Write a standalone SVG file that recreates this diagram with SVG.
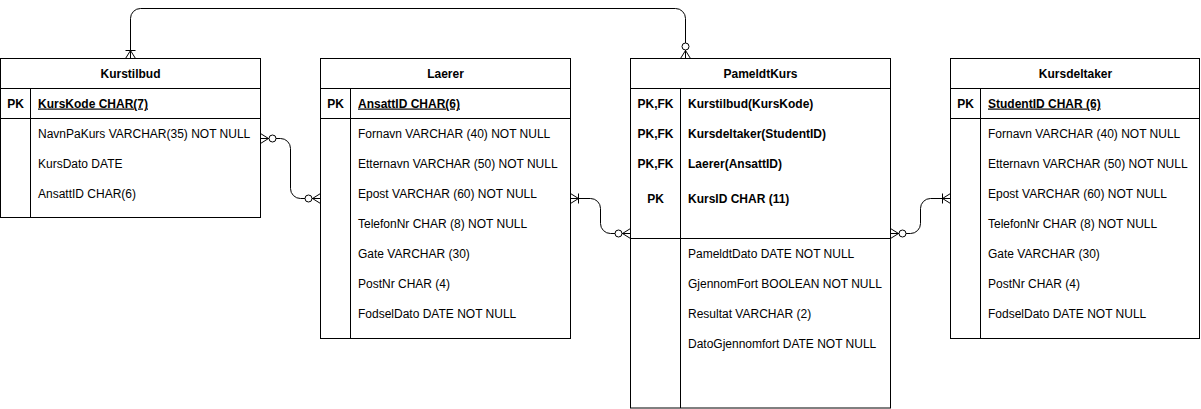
<svg xmlns="http://www.w3.org/2000/svg" width="1201" height="409" viewBox="0 0 1201 409">
<style>
  .box{fill:#fff;stroke:#000;stroke-width:1}
  .ln{stroke:#000;stroke-width:1;fill:none}
  text{font-family:"Liberation Sans",Arial,Helvetica,sans-serif;font-size:12px;fill:#000}
  .hd{font-weight:bold;text-anchor:middle}
  .pk{font-weight:bold;text-anchor:middle}
  .key{font-weight:bold;text-decoration:underline}
  .b{font-weight:bold}
  .conn{stroke:#000;stroke-width:1;fill:none}
</style>
<defs>
  <marker id="zeroMany" markerUnits="userSpaceOnUse" viewBox="-20 -10 22 20" refX="0" refY="0" markerWidth="22" markerHeight="20" orient="auto-start-reverse" overflow="visible">
    <path d="M0,-5 L-8,0 L0,5" fill="none" stroke="#000" stroke-width="1"/>
    <circle cx="-12" cy="0" r="3.5" fill="#fff" stroke="#000" stroke-width="1"/>
  </marker>
  <marker id="oneMany" markerUnits="userSpaceOnUse" viewBox="-20 -10 22 20" refX="0" refY="0" markerWidth="22" markerHeight="20" orient="auto-start-reverse" overflow="visible">
    <path d="M0,-5 L-8,0 L0,5 M-8,-5 L-8,5" fill="none" stroke="#000" stroke-width="1"/>
  </marker>
</defs>
<rect x="0" y="0" width="1201" height="409" fill="#fff"/>

<g id="Kurstilbud">
  <rect class="box" x="0.5" y="58.5" width="260" height="159"/>
  <path class="ln" d="M0.5,88.5 H260.5 M0.5,118.5 H260.5 M30.5,88.5 V217.5"/>
  <text class="hd" x="130.5" y="77.5">Kurstilbud</text>
  <text class="pk" x="15.5" y="107.5">PK</text>
  <text class="key" x="38" y="107.5">KursKode CHAR(7)</text>
  <text x="38" y="137.5">NavnPaKurs VARCHAR(35) NOT NULL</text>
  <text x="38" y="167.5">KursDato DATE</text>
  <text x="38" y="197.5">AnsattID CHAR(6)</text>
</g>

<g id="Laerer">
  <rect class="box" x="320.5" y="58.5" width="250" height="280"/>
  <path class="ln" d="M320.5,88.5 H570.5 M320.5,118.5 H570.5 M350.5,88.5 V338.5"/>
  <text class="hd" x="445.5" y="77.5">Laerer</text>
  <text class="pk" x="335.5" y="107.5">PK</text>
  <text class="key" x="358" y="107.5">AnsattID CHAR(6)</text>
  <text x="358" y="137.5">Fornavn VARCHAR (40) NOT NULL</text>
  <text x="358" y="167.5">Etternavn VARCHAR (50) NOT NULL</text>
  <text x="358" y="197.5">Epost VARCHAR (60) NOT NULL</text>
  <text x="358" y="227.5">TelefonNr CHAR (8) NOT NULL</text>
  <text x="358" y="257.5">Gate VARCHAR (30)</text>
  <text x="358" y="287.5">PostNr CHAR (4)</text>
  <text x="358" y="317.5">FodselDato DATE NOT NULL</text>
</g>

<g id="PameldtKurs">
  <rect class="box" x="630.5" y="58.5" width="260" height="349.5"/>
  <path class="ln" d="M630.5,88.5 H890.5 M630.5,238.5 H890.5 M680.5,88.5 V408"/>
  <text class="hd" x="760.5" y="77.5">PameldtKurs</text>
  <text class="pk" x="655.5" y="107.5">PK,FK</text>
  <text class="b" x="688" y="107.5">Kurstilbud(KursKode)</text>
  <text class="pk" x="655.5" y="137.5">PK,FK</text>
  <text class="b" x="688" y="137.5">Kursdeltaker(StudentID)</text>
  <text class="pk" x="655.5" y="167.5">PK,FK</text>
  <text class="b" x="688" y="167.5">Laerer(AnsattID)</text>
  <text class="pk" x="655.5" y="202.5">PK</text>
  <text class="b" x="688" y="202.5">KursID CHAR (11)</text>
  <text x="688" y="257.5">PameldtDato DATE NOT NULL</text>
  <text x="688" y="287.5">GjennomFort BOOLEAN NOT NULL</text>
  <text x="688" y="317.5">Resultat VARCHAR (2)</text>
  <text x="688" y="347.5">DatoGjennomfort DATE NOT NULL</text>
</g>

<g id="Kursdeltaker">
  <rect class="box" x="950.5" y="58.5" width="249" height="280"/>
  <path class="ln" d="M950.5,88.5 H1199.5 M950.5,118.5 H1199.5 M980.5,88.5 V338.5"/>
  <text class="hd" x="1075.5" y="77.5">Kursdeltaker</text>
  <text class="pk" x="965.5" y="107.5">PK</text>
  <text class="key" x="988" y="107.5">StudentID CHAR (6)</text>
  <text x="988" y="137.5">Fornavn VARCHAR (40) NOT NULL</text>
  <text x="988" y="167.5">Etternavn VARCHAR (50) NOT NULL</text>
  <text x="988" y="197.5">Epost VARCHAR (60) NOT NULL</text>
  <text x="988" y="227.5">TelefonNr CHAR (8) NOT NULL</text>
  <text x="988" y="257.5">Gate VARCHAR (30)</text>
  <text x="988" y="287.5">PostNr CHAR (4)</text>
  <text x="988" y="317.5">FodselDato DATE NOT NULL</text>
</g>

<g id="connectors">
  <path class="conn" d="M130.5,58.5 V18.5 A10,10 0 0 1 140.5,8.5 H675.5 A10,10 0 0 1 685.5,18.5 V58.5" marker-start="url(#oneMany)" marker-end="url(#zeroMany)"/>
  <path class="conn" d="M260.5,138.5 H280.5 A10,10 0 0 1 290.5,148.5 V188.5 A10,10 0 0 0 300.5,198.5 H320.5" marker-start="url(#zeroMany)" marker-end="url(#zeroMany)"/>
  <path class="conn" d="M570.5,198.5 H590.5 A10,10 0 0 1 600.5,208.5 V223.5 A10,10 0 0 0 610.5,233.5 H630.5" marker-start="url(#oneMany)" marker-end="url(#zeroMany)"/>
  <path class="conn" d="M890.5,233.5 H910.5 A10,10 0 0 0 920.5,223.5 V208.5 A10,10 0 0 1 930.5,198.5 H950.5" marker-start="url(#zeroMany)" marker-end="url(#oneMany)"/>
</g>
</svg>
